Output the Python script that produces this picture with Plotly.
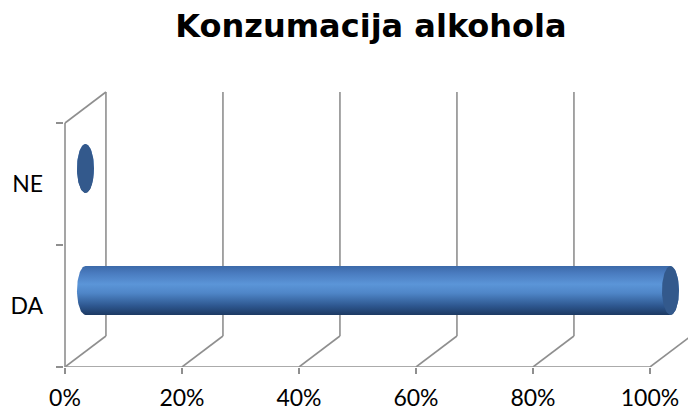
import numpy as np
import plotly.graph_objects as go

# ---- data ----
title_text = "Konzumacija alkohola"
categories = ["DA", "NE"]
values = [100, 0]          # percent
x_ticks = [0, 20, 40, 60, 80, 100]
x_tick_labels = ["0%", "20%", "40%", "60%", "80%", "100%"]

# ---- style / geometry (not data) ----
DEPTH_X = 7.0      # x-units of the 3D depth offset
DEPTH_Y = 0.254    # y-units of the 3D depth offset
RX = 1.45          # cap ellipse half-width (x units)
RY = 0.20          # cylinder radius (y units)
GRID = "#8f8f8f"
GW = 1.6

fig = go.Figure()

def line(x0, y0, x1, y1):
    fig.add_shape(type="line", x0=x0, y0=y0, x1=x1, y1=y1,
                  line=dict(color=GRID, width=GW), layer="below")

y_lo = -0.5
y_hi = len(categories) - 0.5
# left wall
line(0, y_lo, 0, y_hi)
line(0, y_hi, DEPTH_X, y_hi + DEPTH_Y)
line(DEPTH_X, y_lo + DEPTH_Y, DEPTH_X, y_hi + DEPTH_Y)
# back wall gridlines + floor diagonals
for t in x_ticks:
    line(t, y_lo, t + DEPTH_X, y_lo + DEPTH_Y)
    if t > 0:
        line(t + DEPTH_X, y_lo + DEPTH_Y, t + DEPTH_X, y_hi + DEPTH_Y)
# floor front edge
line(0, y_lo, x_ticks[-1], y_lo)

# ---- cylinders ----
th_left = np.linspace(np.pi / 2, 3 * np.pi / 2, 40)
th_right = np.linspace(-np.pi / 2, np.pi / 2, 40)
th_full = np.linspace(0, 2 * np.pi, 80)
for i, (cat, v) in enumerate(zip(categories, values)):
    cx0 = DEPTH_X / 2
    cx1 = v + DEPTH_X / 2
    cy = i + DEPTH_Y / 2
    # left half (top->left->bottom), then right half (bottom->right->top)
    bx = np.concatenate([cx0 + RX * np.cos(th_left), cx1 + RX * np.cos(th_right)])
    by = np.concatenate([cy + RY * np.sin(th_left), cy + RY * np.sin(th_right)])
    fig.add_trace(go.Scatter(
        x=np.append(bx, bx[0]), y=np.append(by, by[0]), mode="lines",
        line=dict(width=0), fill="toself", hoverinfo="skip", showlegend=False,
        fillgradient=dict(type="vertical", start=cy - RY, stop=cy + RY,
                          colorscale=[[0, "#1d3a63"], [0.18, "#2d568e"],
                                      [0.45, "#4f86c8"], [0.63, "#5b95d8"],
                                      [0.85, "#4a7cc0"], [1, "#3c6aa9"]])))
    ex = cx1 + RX * np.cos(th_full)
    ey = cy + RY * np.sin(th_full)
    fig.add_trace(go.Scatter(
        x=ex, y=ey, mode="lines", line=dict(width=0, color="#2f5587"),
        fill="toself", fillcolor="#33598c", hoverinfo="skip", showlegend=False))

PX_PER_X = 5.85
left_margin = 64
plot_w = 688 - left_margin
x0r = -(65 - left_margin) / PX_PER_X
x1r = x0r + plot_w / PX_PER_X

fig.update_layout(
    width=688, height=413,
    margin=dict(l=left_margin, r=0, t=85, b=46),
    paper_bgcolor="white", plot_bgcolor="white",
    title=dict(text="<b>" + title_text + "</b>", x=371 / 688, xref="container",
               xanchor="center", y=1 - 26 / 413, yref="container", yanchor="middle",
               font=dict(family="DejaVu Sans", size=32, color="black")),
    font=dict(family="Lato", size=23, color="black"),
    xaxis=dict(range=[x0r, x1r], tickvals=x_ticks, ticktext=x_tick_labels,
               ticks="outside", ticklen=6, tickwidth=GW, tickcolor=GRID,
               showgrid=False, zeroline=False, showline=False,
               ticklabelstandoff=4, fixedrange=True),
    yaxis=dict(range=[-0.5, -0.5 + 282 / 122], tickvals=list(range(len(categories))),
               ticktext=categories, ticks="", showgrid=False, zeroline=False,
               showline=False, ticklabelstandoff=20,
               minor=dict(tick0=-0.5, dtick=1, ticks="outside", ticklen=7,
                          tickwidth=GW, tickcolor=GRID, showgrid=False),
               fixedrange=True),
)

fig.write_html("out.html", config={"displayModeBar": False},
               post_script="document.body.style.margin='0';document.body.style.padding='0';document.body.style.overflow='hidden';")
